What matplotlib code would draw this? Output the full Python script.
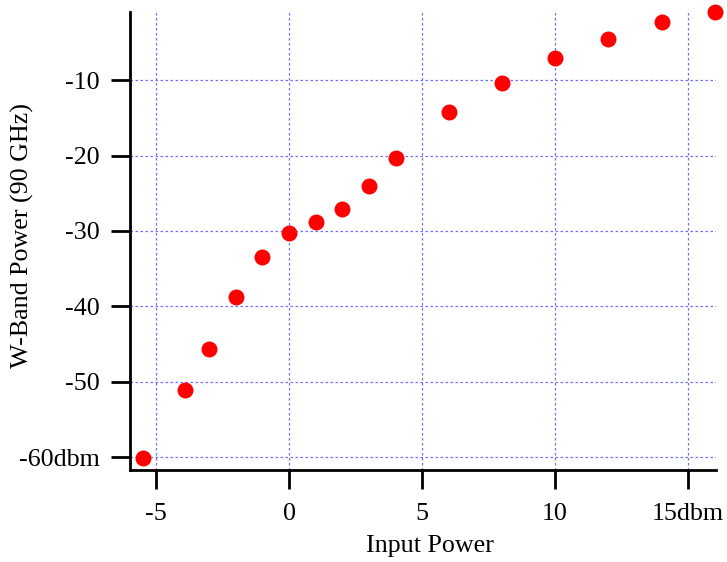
import matplotlib.pyplot as plt

plt.rcParams['font.family'] = ['Liberation Serif', 'DejaVu Serif']

input_power = [-5.5, -3.9, -3, -2, -1, 0, 1, 2, 3, 4, 6, 8, 10, 12, 14, 16]
wband_power = [-60.1, -51.1, -45.7, -38.8, -33.4, -30.2, -28.8, -27.1, -24.0,
               -20.3, -14.2, -10.4, -7.1, -4.5, -2.3, -0.9]

x_ticks = [-5, 0, 5, 10, 15]
x_labels = ["-5", "0", "5", "10", "15dbm"]
y_ticks = [-60, -50, -40, -30, -20, -10]
y_labels = ["-60dbm", "-50", "-40", "-30", "-20", "-10"]

fig = plt.figure(figsize=(7.27, 5.62), dpi=100)
ax = fig.add_axes([0.1788, 0.1637, 0.8062, 0.815])

ax.plot(input_power, wband_power, linestyle="none", marker="o", markersize=11.5,
        color="#ff0000", markeredgewidth=0, clip_on=False, zorder=5)

ax.set_xlim(-5.98, 16.05)
ax.set_ylim(-61.7, -0.95)
ax.set_xticks(x_ticks)
ax.set_xticklabels(x_labels)
ax.set_yticks(y_ticks)
ax.set_yticklabels(y_labels)

ax.grid(True, color="#7070ff", linestyle=(0, (2, 2)), linewidth=0.9)
ax.set_axisbelow(True)

for s in ["top", "right"]:
    ax.spines[s].set_visible(False)
for s in ["left", "bottom"]:
    ax.spines[s].set_linewidth(2)

ax.tick_params(direction="out", length=14, width=2, labelsize=18.7)
ax.tick_params(axis="x", pad=10)
ax.tick_params(axis="y", pad=8)
ax.set_xlabel("Input Power", fontsize=18.7, va="center")
ax.set_ylabel("W-Band Power (90 GHz)", fontsize=18.7, va="center")
ax.xaxis.set_label_coords(0.511, -0.166)
ax.yaxis.set_label_coords(-0.183, 0.512)

fig.savefig("out.png", dpi=100)
